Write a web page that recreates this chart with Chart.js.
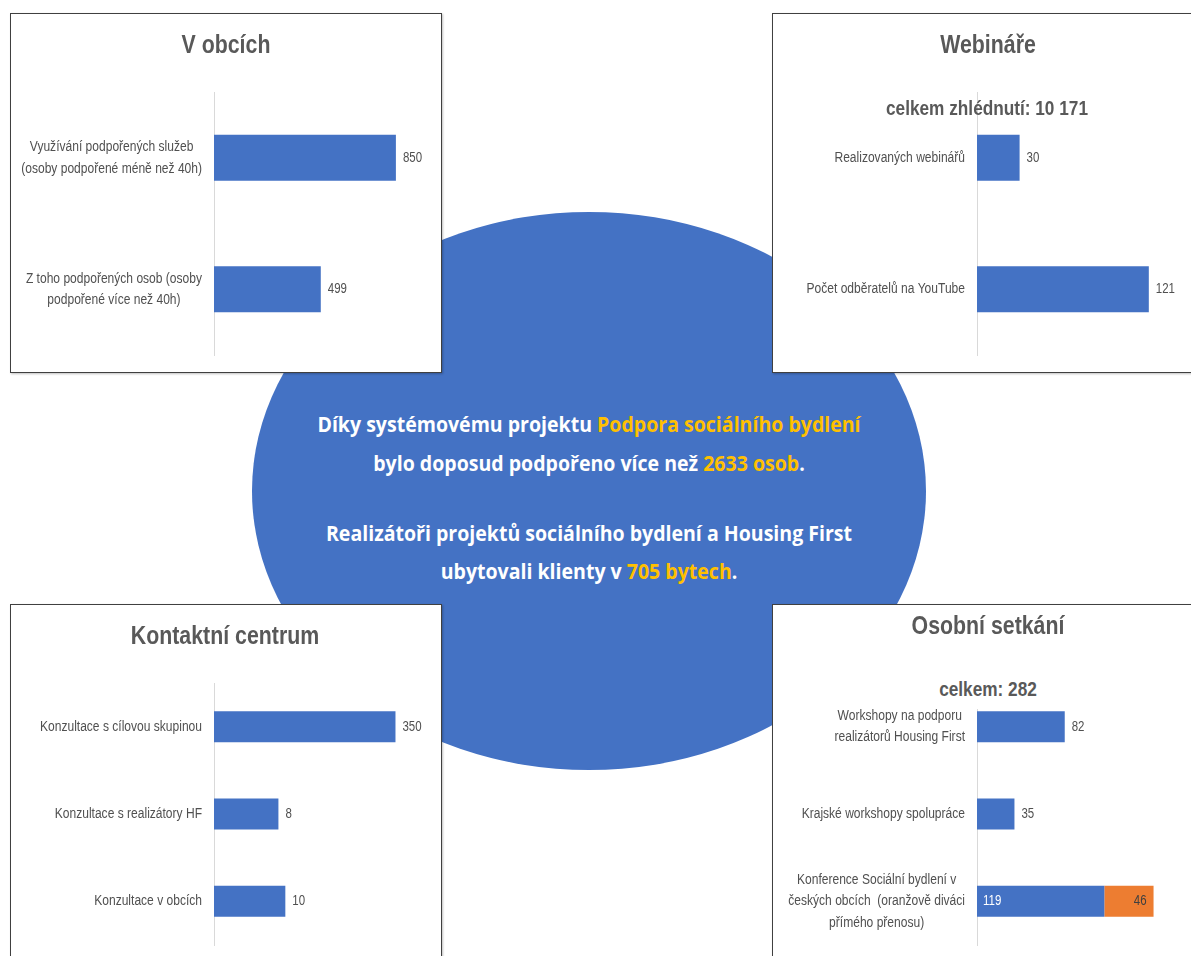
<!DOCTYPE html>
<html>
<head>
<meta charset="utf-8">
<script src="https://cdn.jsdelivr.net/npm/chart.js@4.4.1/dist/chart.umd.min.js"></script>
<style>
  html, body { margin: 0; padding: 0; background: #fff; overflow: hidden; }
  #page { position: relative; width: 1191px; height: 956px; overflow: hidden; }
  #ellipse { position: absolute; left: 252px; top: 212px; width: 674px; height: 558px; border-radius: 50%; background: #4472C4; }
  .panel { position: absolute; background: #fff; border: 1px solid #404040; box-shadow: 1px 1px 2px rgba(0,0,0,0.25); }
  .panel canvas { position: absolute; left: 0; top: 0; }
  .title, .sub { position: absolute; width: 400px; text-align: center; color: #595959; font-weight: bold;
    font-family: "Liberation Sans", Arial, sans-serif; white-space: nowrap;
    transform: scaleX(0.82); transform-origin: center; }
  .title { font-size: 26px; height: 30px; line-height: 30px; }
  .sub { font-size: 21px; height: 26px; line-height: 26px; }
  .hub { position: absolute; left: 189px; width: 800px; height: 38px; line-height: 38px; text-align: center;
    font-family: "Open Sans", sans-serif; font-weight: bold; font-size: 22px; color: #fff;
    transform: scaleX(0.888); transform-origin: center; white-space: nowrap; }
  .hl { color: #FFC000; }
</style>
</head>
<body>
<div id="page">
  <div id="ellipse"></div>

  <div class="panel" style="left:10px;top:13px;width:430px;height:358px;"><canvas id="obce" width="430" height="358"></canvas></div>
  <div class="panel" style="left:772px;top:13px;width:440px;height:358px;"><canvas id="webinare" width="440" height="358"></canvas></div>
  <div class="panel" style="left:10px;top:604px;width:430px;height:400px;"><canvas id="kontakt" width="430" height="400"></canvas></div>
  <div class="panel" style="left:772px;top:604px;width:440px;height:400px;"><canvas id="setkani" width="440" height="400"></canvas></div>

  <div class="title" style="left:26px;top:29px;">V obcích</div>
  <div class="title" style="left:788px;top:29px;">Webináře</div>
  <div class="sub" style="left:787px;top:95px;">celkem zhlédnutí: 10 171</div>
  <div class="title" style="left:25px;top:620px;">Kontaktní centrum</div>
  <div class="title" style="left:788px;top:610px;">Osobní setkání</div>
  <div class="sub" style="left:788px;top:676px;height:33px;background:#fff;">celkem: 282</div>

  <div class="hub" style="top:404px;">Díky systémovému projektu <span class="hl">Podpora sociálního bydlení</span></div>
  <div class="hub" style="top:443px;">bylo doposud podpořeno více než <span class="hl">2633 osob</span>.</div>
  <div class="hub" style="top:513px;">Realizátoři projektů sociálního bydlení a Housing First</div>
  <div class="hub" style="top:551px;">ubytovali klienty v <span class="hl">705 bytech</span>.</div>
</div>

<script>
// data
const obceLabels = [
  ["Využívání podpořených služeb", "(osoby podpořené méně než 40h)"],
  ["Z toho podpořených osob (osoby", "podpořené více než 40h)"]
];
const obceValues = [850, 499];

const webinareLabels = ["Realizovaných webinářů", "Počet odběratelů na YouTube"];
const webinareValues = [30, 121];

const kontaktLabels = ["Konzultace s cílovou skupinou", "Konzultace s realizátory HF", "Konzultace v obcích"];
const kontaktValues = [350, 8, 10];

const setkaniLabels = [
  ["Workshopy na podporu", "realizátorů Housing First"],
  ["Krajské workshopy spolupráce"],
  ["Konference Sociální bydlení v", "českých obcích  (oranžově diváci", "přímého přenosu)"]
];
const setkaniValues = [82, 35, 119];
const setkaniOnline = [null, null, 46];

const BLUE = "#4472C4";
const ORANGE = "#ED7D31";
const GREY = "#505050";
const FONT = '"Liberation Sans", Arial, sans-serif';
const SX = 0.82;      // narrow the text like a condensed face
const LINE_H = 21.5;

Chart.defaults.font.family = FONT;
Chart.defaults.animation = false;

// draw text squeezed horizontally around its anchor
function narrowText(ctx, txt, x, y) {
  ctx.save();
  ctx.translate(x, y);
  ctx.scale(SX, 1);
  ctx.fillText(txt, 0, 0);
  ctx.restore();
}

// category labels: widest line right-aligned, lines centred like Excel does
const catLabels = {
  id: "catLabels",
  afterDraw(chart) {
    const ctx = chart.ctx;
    const yScale = chart.scales.y;
    ctx.save();
    ctx.font = "14.7px " + FONT;
    ctx.fillStyle = GREY;
    ctx.textAlign = "center";
    ctx.textBaseline = "middle";
    chart.data.labels.forEach((lab, i) => {
      const lines = Array.isArray(lab) ? lab : [lab];
      const w = Math.max(...lines.map(l => ctx.measureText(l).width)) * SX;
      const cx = chart.chartArea.left - 12 - w / 2;
      const cy = yScale.getPixelForTick(i);
      lines.forEach((l, k) => {
        narrowText(ctx, l, cx, cy + (k - (lines.length - 1) / 2) * LINE_H);
      });
    });
    ctx.restore();
  }
};

// value labels next to / inside the bars
const valueLabels = {
  id: "valueLabels",
  afterDatasetsDraw(chart) {
    const ctx = chart.ctx;
    const sets = chart.data.datasets;
    ctx.save();
    ctx.font = "14px " + FONT;
    ctx.textBaseline = "middle";
    ctx.textAlign = "left";
    sets.forEach((ds, di) => {
      const meta = chart.getDatasetMeta(di);
      meta.data.forEach((bar, i) => {
        const v = ds.data[i];
        if (v == null) return;
        const txt = String(v);
        const w = ctx.measureText(txt).width * SX;
        const above = sets.slice(di + 1).some(o => o.data[i] != null);
        const below = sets.slice(0, di).some(o => o.data[i] != null);
        if (above) {
          ctx.fillStyle = "#ffffff";
          narrowText(ctx, txt, bar.base + 6, bar.y);
        } else if (below) {
          ctx.fillStyle = "#404040";
          narrowText(ctx, txt, bar.x - 7 - w, bar.y);
        } else {
          ctx.fillStyle = GREY;
          narrowText(ctx, txt, bar.x + 7, bar.y);
        }
      });
    });
    ctx.restore();
  }
};

// box = canvas position on the page, plot = wanted plot area on the page
function makeChart(id, box, plot, labels, datasets, xOpts, pct) {
  new Chart(document.getElementById(id), {
    type: "bar",
    data: { labels: labels, datasets: datasets },
    options: {
      indexAxis: "y",
      responsive: false,
      layout: {
        padding: {
          left: 0,
          top: plot.top - box.top,
          bottom: box.top + box.h - plot.bottom,
          right: box.left + box.w - plot.right
        }
      },
      datasets: { bar: { categoryPercentage: 1, barPercentage: pct } },
      scales: {
        x: Object.assign({ display: false }, xOpts),
        y: {
          stacked: !!xOpts.stacked,
          ticks: { display: false },
          grid: { display: false },
          border: { display: true, color: "#d9d9d9", width: 1 },
          afterFit(scale) { scale.width = plot.left - box.left; }
        }
      },
      plugins: { legend: { display: false }, tooltip: { enabled: false } }
    },
    plugins: [catLabels, valueLabels]
  });
}

makeChart("obce",
  { left: 11, top: 14, w: 430, h: 358 },
  { left: 214, top: 92, bottom: 355, right: 428 },
  obceLabels,
  [{ data: obceValues, backgroundColor: BLUE }],
  { min: 0, max: 1000 }, 0.35);

makeChart("webinare",
  { left: 773, top: 14, w: 440, h: 358 },
  { left: 977, top: 92, bottom: 355, right: 1190 },
  webinareLabels,
  [{ data: webinareValues, backgroundColor: BLUE }],
  { min: 0, max: 150 }, 0.35);

makeChart("kontakt",
  { left: 11, top: 605, w: 430, h: 400 },
  { left: 214, top: 683, bottom: 945, right: 428 },
  kontaktLabels,
  [{ data: kontaktValues, backgroundColor: BLUE }],
  { type: "logarithmic", min: 1, max: 1000 }, 0.355);

makeChart("setkani",
  { left: 773, top: 605, w: 440, h: 400 },
  { left: 977, top: 683, bottom: 945, right: 1191 },
  setkaniLabels,
  [
    { data: setkaniValues, backgroundColor: BLUE },
    { data: setkaniOnline, backgroundColor: ORANGE }
  ],
  { min: 0, max: 200, stacked: true }, 0.355);
</script>
</body>
</html>
